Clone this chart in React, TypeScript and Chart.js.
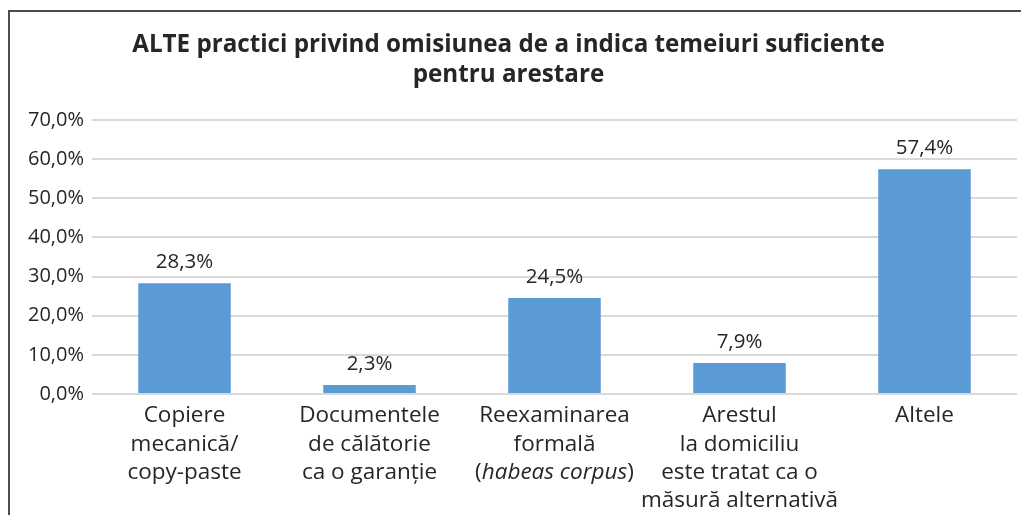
import React, { useEffect, useRef } from "react";
import { Chart, registerables } from "chart.js";

Chart.register(...registerables);

const titleLines = [
  "ALTE practici privind omisiunea de a indica temeiuri suficiente",
  "pentru arestare",
];
// Category label lines; segments wrapped in _..._ are italic
const categories: string[][] = [
  ["Copiere", "mecanică/", "copy-paste"],
  ["Documentele", "de călătorie", "ca o garanție"],
  ["Reexaminarea", "formală", "(_habeas corpus_)"],
  ["Arestul", "la domiciliu", "este tratat ca o", "măsură alternativă"],
  ["Altele"],
];
const values = [28.3, 2.3, 24.5, 7.9, 57.4];
const yTicks = [0, 10, 20, 30, 40, 50, 60, 70];

const FONT = "'Open Sans', 'Noto Sans', sans-serif";
const TEXT = "#262626";

const fmt = (v: number) => v.toFixed(1).replace(".", ",") + "%";

const labelsPlugin = {
  id: "customLabels",
  afterDatasetsDraw(chart: any) {
    const ctx = chart.ctx as CanvasRenderingContext2D;
    const meta = chart.getDatasetMeta(0);
    ctx.save();
    ctx.fillStyle = TEXT;
    ctx.textAlign = "center";
    ctx.textBaseline = "middle";
    ctx.font = `20.5px ${FONT}`;
    meta.data.forEach((bar: any, i: number) => {
      ctx.fillText(fmt(values[i]), bar.x, bar.y - 21);
    });
    // x category labels
    const xScale = chart.scales.x;
    const baseY = chart.chartArea.bottom + 22;
    const lh = 28.3;
    categories.forEach((lines, i) => {
      const cx = xScale.getPixelForValue(i);
      lines.forEach((line, j) => {
        const y = baseY + j * lh;
        const parts = line.split("_");
        const fonts = parts.map((_, k) => (k % 2 === 1 ? `italic 22.5px ${FONT}` : `22.5px ${FONT}`));
        let total = 0;
        const widths = parts.map((p, k) => {
          ctx.font = fonts[k];
          const w = ctx.measureText(p).width;
          total += w;
          return w;
        });
        let x = cx - total / 2;
        ctx.textAlign = "left";
        parts.forEach((p, k) => {
          ctx.font = fonts[k];
          ctx.fillText(p, x, y);
          x += widths[k];
        });
      });
    });
    ctx.restore();
  },
};

export default function App() {
  const ref = useRef<HTMLCanvasElement>(null);
  useEffect(() => {
    if (!ref.current) return;
    const chart = new Chart(ref.current, {
      type: "bar",
      data: {
        labels: categories.map((c) => c.join(" ").replace(/_/g, "")),
        datasets: [
          {
            data: values,
            backgroundColor: "#5B9BD5",
            barPercentage: 0.5,
            categoryPercentage: 1,
          },
        ],
      },
      options: {
        responsive: false,
        animation: false,
        layout: { padding: { left: 0, right: 4, top: 0, bottom: 113 } },
        plugins: {
          legend: { display: false },
          tooltip: { enabled: false },
          title: {
            display: true,
            text: titleLines,
            color: TEXT,
            font: { family: FONT, size: 24.2, weight: "bold", lineHeight: 1.24 },
            padding: { top: 30, bottom: 30 },
          },
        },
        scales: {
          x: {
            grid: { display: false },
            border: { display: false },
            ticks: { display: false },
          },
          y: {
            min: 0,
            max: 70,
            afterFit: (s: any) => {
              s.width = 92;
            },
            afterBuildTicks: (s: any) => {
              s.ticks = yTicks.map((v) => ({ value: v }));
            },
            ticks: {
              color: TEXT,
              padding: 8,
              font: { family: FONT, size: 20 },
              callback: (v: any) => fmt(Number(v)),
            },
            grid: { color: "#d9d9d9", lineWidth: 2, drawTicks: false },
            border: { display: false },
          },
        },
      },
      plugins: [labelsPlugin],
    });
    return () => chart.destroy();
  }, []);

  return (
    <div style={{ position: "absolute", left: 0, top: 0, width: 1021, height: 515, overflow: "hidden", background: "#fff" }}>
      <div
        style={{
          position: "absolute",
          left: 8,
          top: 10,
          width: 1100,
          height: 600,
          borderLeft: "2px solid #4d4d4d",
          borderTop: "2px solid #4d4d4d",
        }}
      />
      <canvas ref={ref} width={1021} height={515} style={{ position: "absolute", left: 0, top: 0 }} />
    </div>
  );
}
